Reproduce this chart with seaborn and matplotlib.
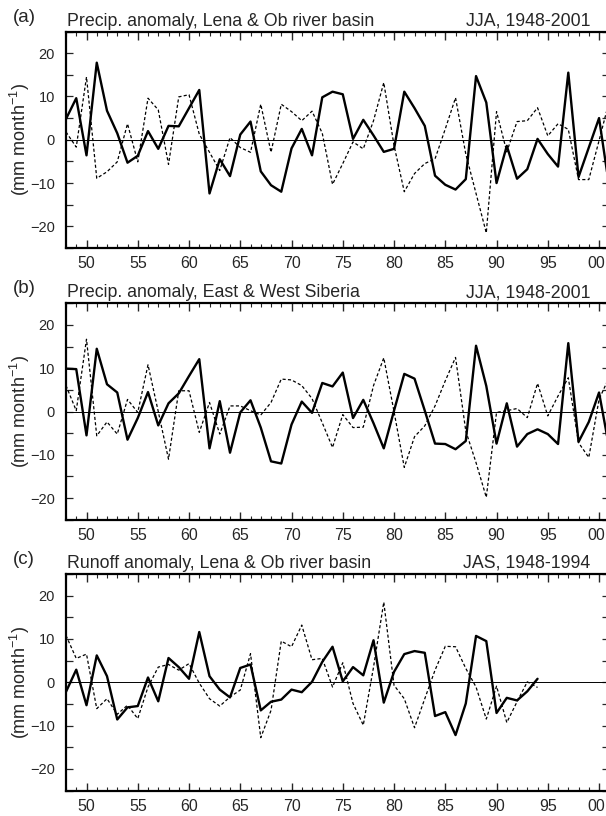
import numpy as np
import pandas as pd
import seaborn as sns
import matplotlib
matplotlib.use("Agg")
import matplotlib.pyplot as plt
from matplotlib.ticker import MultipleLocator
from matplotlib.transforms import ScaledTranslation

# anos
years_full = list(range(1948, 2002))
years_runoff = list(range(1948, 1995))

# (a) precip, Lena & Ob
precip_lena_solid = [4.8, 9.6, -3.6, 17.8, 6.7, 1.5, -5.3, -3.7, 2.0, -2.1,
                     3.2, 3.1, 7.3, 11.5, -12.4, -4.5, -8.4, 1.2, 4.2, -7.3,
                     -10.5, -12.0, -2.0, 2.5, -3.6, 9.8, 11.1, 10.5, 0.2, 4.6,
                     1.0, -2.8, -2.1, 11.1, 7.3, 3.2, -8.3, -10.4, -11.5, -9.1,
                     14.7, 8.6, -10.0, -1.4, -9.0, -6.8, 0.2, -3.3, -6.2, 15.5,
                     -8.6, -1.8, 5.0, -11.0]
precip_lena_dash = [1.8, -1.7, 14.5, -8.9, -7.4, -5.1, 3.7, -5.1, 9.6, 6.9,
                    -5.7, 9.9, 10.4, 1.3, -2.9, -7.1, 0.5, -1.8, -2.9, 8.2,
                    -2.9, 8.2, 6.5, 4.4, 6.6, 1.5, -10.3, -5.5, -0.5, -2.1,
                    4.4, 13.2, -1.3, -12.0, -7.8, -5.5, -4.4, 2.5, 9.7, -3.3,
                    -12.4, -21.5, 6.5, -2.8, 4.2, 4.4, 7.4, 0.9, 3.7, 2.4,
                    -9.2, -9.2, -0.2, 9.0]

# (b) precip, East & West Siberia
precip_sib_solid = [9.9, 9.8, -5.5, 14.5, 6.3, 4.4, -6.5, -1.5, 4.5, -3.2,
                    1.9, 4.2, 8.2, 12.1, -8.5, 2.4, -9.5, -0.2, 2.6, -3.7,
                    -11.5, -12.0, -3.0, 2.3, -0.3, 6.6, 5.8, 9.0, -1.5, 2.7,
                    -2.7, -8.5, 0.2, 8.7, 7.6, 0.2, -7.4, -7.5, -8.7, -6.8,
                    15.2, 5.9, -7.4, 1.9, -8.1, -5.2, -4.1, -5.2, -7.5, 15.8,
                    -7.0, -2.4, 4.4, -8.5]
precip_sib_dash = [6.0, 0.2, 16.7, -5.6, -2.4, -5.2, 2.8, -0.2, 10.8, 0.0,
                   -11.0, 4.8, 4.8, -4.8, 2.1, -5.2, 1.3, 1.3, 0.2, -0.8,
                   2.1, 7.5, 7.3, 6.0, 3.0, -2.6, -8.3, -0.7, -3.7, -3.6,
                   6.0, 12.4, 0.0, -12.9, -5.8, -3.3, 1.3, 7.1, 12.5, -4.5,
                   -11.8, -19.8, -0.2, 0.2, 0.7, -1.4, 6.5, -1.0, 3.6, 7.8,
                   -7.2, -10.6, 2.8, 8.0]

# (c) runoff, Lena & Ob
runoff_solid = [-2.2, 2.9, -5.3, 6.2, 1.4, -8.6, -5.8, -5.5, 1.1, -4.4,
                5.6, 3.5, 0.8, 11.6, 1.4, -1.7, -3.5, 3.3, 4.1, -6.5,
                -4.5, -4.0, -1.7, -2.3, 0.1, 4.7, 8.2, 0.2, 3.5, 1.6,
                9.7, -4.7, 2.4, 6.5, 7.2, 6.8, -7.8, -6.9, -12.2, -4.9,
                10.7, 9.5, -7.1, -3.6, -4.2, -2.1, 0.8]
runoff_dash = [10.8, 5.5, 6.5, -6.1, -3.8, -7.4, -5.3, -8.4, -1.1, 3.5,
               4.1, 2.8, 4.3, -0.2, -3.8, -5.5, -3.4, -1.8, 6.6, -12.8,
               -6.5, 9.5, 8.2, 13.2, 5.2, 5.5, -1.1, 4.5, -4.9, -9.9,
               3.5, 18.5, -0.7, -3.8, -10.5, -3.8, 2.8, 8.3, 8.2, 3.2,
               -1.1, -8.5, -0.9, -9.3, -4.5, 0.1, -1.2]

panel_labels = ["(a)", "(b)", "(c)"]
titles_left = ["Precip. anomaly, Lena & Ob river basin",
               "Precip. anomaly, East & West Siberia",
               "Runoff anomaly, Lena & Ob river basin"]
titles_right = ["JJA, 1948-2001", "JJA, 1948-2001", "JAS, 1948-1994"]
xtick_years = list(range(1950, 2001, 5))
xtick_labels = ["50", "55", "60", "65", "70", "75", "80", "85", "90", "95", "00"]
ytick_vals = [-20, -10, 0, 10, 20]

sns.set_style("white")
plt.rcParams["font.family"] = ["Liberation Sans", "DejaVu Sans"]
plt.rcParams["mathtext.fontset"] = "custom"
plt.rcParams["mathtext.rm"] = "Liberation Sans"

fig = plt.figure(figsize=(6.06, 8.16), dpi=100)

W, H = 606.0, 816.0
left_px, right_px = 66.0, 609.3
tops = [31.5, 303.3, 574.0]
height_px = 216.5

series = [
    (years_full, precip_lena_solid, precip_lena_dash),
    (years_full, precip_sib_solid, precip_sib_dash),
    (years_runoff, runoff_solid, runoff_dash),
]

for i, (yrs, solid, dash) in enumerate(series):
    ax = fig.add_axes([left_px / W, 1 - (tops[i] + height_px) / H,
                       (right_px - left_px) / W, height_px / H])
    df = pd.DataFrame({"year": yrs, "solid": solid, "dash": dash})

    ax.axhline(0, color="black", lw=0.7, zorder=1)
    sns.lineplot(data=df, x="year", y="dash", ax=ax, color="black",
                 linewidth=0.9, linestyle=(0, (2.5, 1.8)))
    sns.lineplot(data=df, x="year", y="solid", ax=ax, color="black",
                 linewidth=1.7)

    ax.set_xlim(1948, 2001)
    ax.set_ylim(-25, 25)
    ax.set_xticks(xtick_years)
    ax.set_xticklabels(xtick_labels)
    ax.xaxis.set_minor_locator(MultipleLocator(1))
    ax.set_yticks(ytick_vals)
    ax.yaxis.set_minor_locator(MultipleLocator(5))
    ax.tick_params(axis="x", which="major", direction="in", length=6, width=1,
                   top=True, bottom=True, labelsize=11.5, pad=6)
    ax.tick_params(axis="x", which="minor", direction="in", length=3, width=0.8,
                   top=True, bottom=True)
    ax.tick_params(axis="y", which="both", direction="in", length=5, width=0.9,
                   left=True, right=True, labelsize=10.5, pad=8)
    for sp in ax.spines.values():
        sp.set_linewidth(1.6)
        sp.set_color("black")

    # o "00" fica colado na borda, puxa um pouco pra esquerda
    last = ax.xaxis.get_major_ticks()[-1].label1
    last.set_transform(last.get_transform() +
                       ScaledTranslation(-0.025, 0, fig.dpi_scale_trans))

    ax.set_xlabel("")
    ax.set_ylabel("(mm month$^{-1}$)", fontsize=13)
    ax.yaxis.set_label_coords(-0.062, 0.5)

    ax.annotate(titles_left[i], xy=(0, 1), xycoords="axes fraction",
                xytext=(1, 6), textcoords="offset pixels",
                ha="left", va="baseline", fontsize=12.8)
    ax.annotate(titles_right[i], xy=(1, 1), xycoords="axes fraction",
                xytext=(-19, 6), textcoords="offset pixels",
                ha="right", va="baseline", fontsize=12.8)
    ax.annotate(panel_labels[i], xy=(0, 1), xycoords="axes fraction",
                xytext=(-53, 10), textcoords="offset pixels",
                ha="left", va="baseline", fontsize=13.5)

fig.savefig("out.png", dpi=100)
